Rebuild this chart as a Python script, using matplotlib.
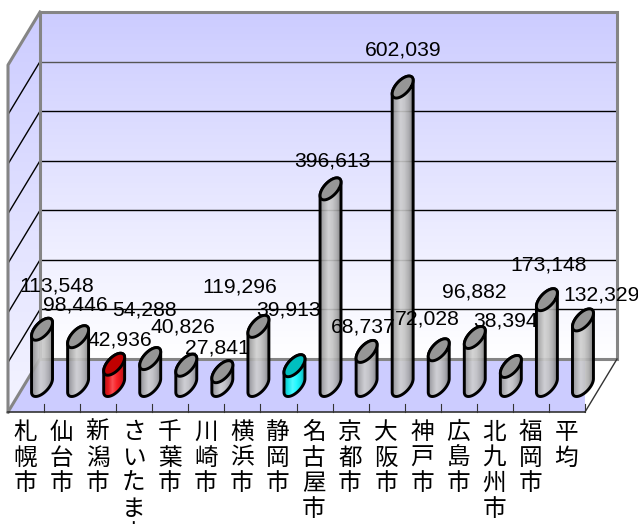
import numpy as np
import matplotlib
matplotlib.use("Agg")
import matplotlib.pyplot as plt
from matplotlib.colors import LinearSegmentedColormap
from matplotlib.patches import Polygon

ciudades = ["札幌市", "仙台市", "新潟市", "さいたま市", "千葉市", "川崎市", "横浜市", "静岡市",
            "名古屋市", "京都市", "大阪市", "神戸市", "広島市", "北九州市", "福岡市", "平均"]
valores = [113548, 98446, 42936, 54288, 40826, 27841, 119296, 39913,
           396613, 68737, 602039, 72028, 96882, 38394, 173148, 132329]
lineas_y = [100000, 200000, 300000, 400000, 500000, 600000]

# donde caen las etiquetas en la imagen (pixeles)
etiqueta_x = [57, 75, 120, 144, 183, 217, 240, 288, 332, 363, 403, 427, 474, 505, 549, 602]
etiqueta_y = [286, 305, 340, 310, 327, 348, 287, 310, 161, 327, 50, 319, 292, 321, 265, 295]

W, H = 638, 524
IZQ, DER, ABAJO, ARRIBA = 8, 585, 412, 65
PROF_X, PROF_Y = 32, 53
YMAX = 700000
n = len(valores)

fig = plt.figure(figsize=(W / 100, H / 100), dpi=100)
ax = fig.add_axes([IZQ / W, 1 - ABAJO / H, (DER - IZQ) / W, (ABAJO - ARRIBA) / H])
ax.axis("off")

ux = n / (DER - IZQ)            # datos por pixel
uy = YMAX / (ABAJO - ARRIBA)
dx, dy = PROF_X * ux, PROF_Y * uy
GRIS = "#858585"


def degradado(verts, colores, horizontal=False, alpha=1.0, z=1):
    cmap = LinearSegmentedColormap.from_list("g", colores)
    g = np.linspace(0, 1, 128)
    g = g.reshape(1, -1) if horizontal else g.reshape(-1, 1)
    xs, ys = zip(*verts)
    im = ax.imshow(g, cmap=cmap, extent=[min(xs), max(xs), min(ys), max(ys)], origin="upper",
                   aspect="auto", zorder=z, alpha=alpha, vmin=0, vmax=1)
    im.set_clip_box(fig.bbox)
    im.set_clip_path(Polygon(verts, transform=ax.transData))


# paredes y piso
fondo = [(dx, dy), (n + dx, dy), (n + dx, YMAX + dy), (dx, YMAX + dy)]
izq = [(0, 0), (dx, dy), (dx, YMAX + dy), (0, YMAX)]
piso = [(0, 0), (n, 0), (n + dx, dy), (dx, dy)]
degradado(fondo, ["#CCCCFF", "#FFFFFF"])
degradado(izq, ["#CCCCFF", "#F4F4FF"])
ax.add_patch(Polygon(piso, fc="#CCCCFF", ec="none", zorder=1))

for v in lineas_y:
    color = "#555555" if v == 600000 else "black"
    ax.plot([dx, n + dx], [v + dy, v + dy], color=color, lw=1, zorder=2, clip_on=False)
    ax.plot([0, dx], [v, v + dy], color="black", lw=1, zorder=2, clip_on=False)

ax.add_patch(Polygon(fondo, fc="none", ec=GRIS, lw=2.2, zorder=2, clip_on=False))
ax.plot([0, 0, dx], [0, YMAX, YMAX + dy], color=GRIS, lw=2.2, zorder=2, clip_on=False)
ax.plot([0, dx], [0, dy], color=GRIS, lw=2.2, zorder=2, clip_on=False)
ax.plot([n, n + dx], [0, dy], color="#333333", lw=1, zorder=2, clip_on=False)
ax.plot([0, n], [0, 0], color="#333333", lw=1.2, zorder=3, clip_on=False)
for i in range(1, n + 1):
    ax.plot([i, i], [0, 8 * uy], color="#333333", lw=0.8, zorder=3, clip_on=False)

# cilindros
a_x, b_x, b_y = 8.3, 6.4, 11
t0 = np.arctan2(b_x, a_x)
estilos = {
    "gris": (["#8A8A8A", "#AEAEAE", "#CFCFCF", "#C4C4C4", "#A8A8A8", "#7A7A7A"], "#969696"),
    "rojo": (["#B00000", "#E80000", "#FF4040", "#FF1010", "#E00000", "#A00000"], "#C00000"),
    "cian": (["#00B0B0", "#00E8E8", "#40FFFF", "#10FFFF", "#00E0E0", "#00A0A0"], "#00BFBF"),
}
for i, v in enumerate(valores):
    cx = i + 0.5 + dx / 2
    y0 = dy / 2
    y1 = y0 + v
    t_abajo = np.linspace(t0 + np.pi, t0 + 2 * np.pi, 40)
    t_arriba = np.linspace(t0, t0 + np.pi, 40)
    t_todo = np.linspace(0, 2 * np.pi, 80)
    ex = lambda t: cx + (a_x * np.cos(t) + b_x * np.sin(t)) * ux
    ey = lambda t, base: base + b_y * np.sin(t) * uy
    lado = list(zip(ex(t_abajo), ey(t_abajo, y0))) + list(zip(ex(t_arriba), ey(t_arriba, y1)))
    tapa = list(zip(ex(t_todo), ey(t_todo, y1)))
    nombre = "rojo" if ciudades[i] == "新潟市" else "cian" if ciudades[i] == "静岡市" else "gris"
    colores, color_tapa = estilos[nombre]
    degradado(lado, colores, horizontal=True, alpha=0.9, z=4)
    ax.add_patch(Polygon(lado, fc="none", ec="black", lw=2.1, zorder=5, clip_on=False, joinstyle="round"))
    ax.add_patch(Polygon(tapa, fc=color_tapa, ec="black", lw=2.1, zorder=5, clip_on=False))

ax.set_xlim(0, n)
ax.set_ylim(0, YMAX)

# etiquetas
for i, v in enumerate(valores):
    fig.text(etiqueta_x[i] / W, 1 - etiqueta_y[i] / H, f"{v:,}", ha="center", va="center",
             fontsize=15.2, family="Liberation Sans", color="black", zorder=10)
    fig.text((25.5 + 36.06 * i) / W, 1 - 421 / H, "\n".join(ciudades[i]), ha="center", va="top",
             fontsize=17, family=["Noto Sans CJK JP", "DejaVu Sans"], color="black",
             linespacing=1.14, zorder=10)

fig.savefig("out.png", dpi=100, facecolor="white")
